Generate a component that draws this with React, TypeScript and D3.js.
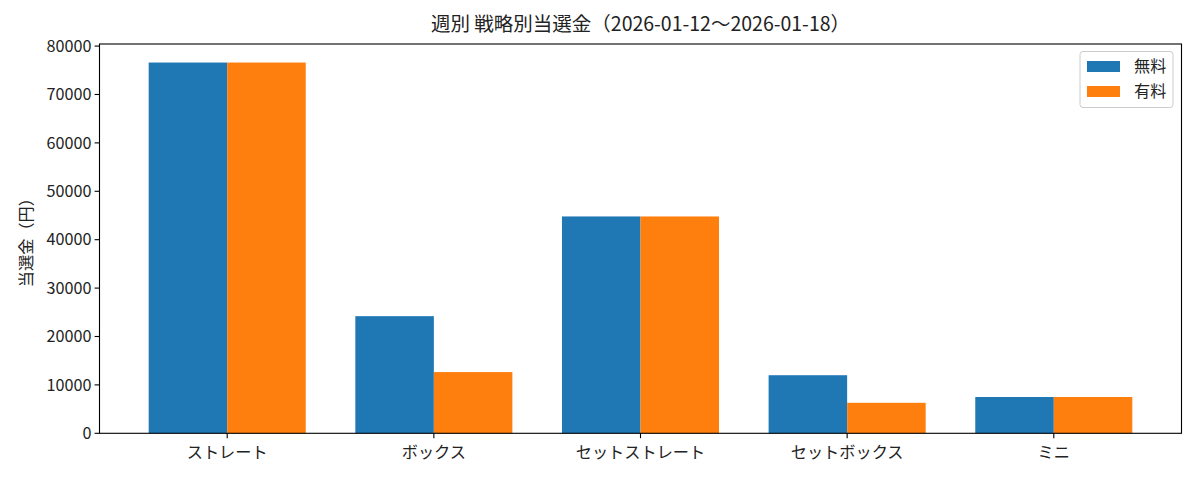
import React from "react";
import * as d3 from "d3";

const categories = ["ストレート", "ボックス", "セットストレート", "セットボックス", "ミニ"];
const freeValues = [76600, 24200, 44800, 12000, 7500];
const paidValues = [76600, 12650, 44800, 6300, 7500];
const seriesNames = ["無料", "有料"];
const yTicks = [0, 10000, 20000, 30000, 40000, 50000, 60000, 70000, 80000];
const titleText = "週別 戦略別当選金（2026-01-12〜2026-01-18）";
const yLabel = "当選金（円）";

const colors = ["#1f77b4", "#ff7f0e"];
const font = "'Noto Sans CJK JP', 'Noto Sans', sans-serif";

export default function App() {
  const W = 1200, H = 480;
  const left = 99.5, right = 1181.5, top = 44, bottom = 433.3;
  const barW = 0.38;
  const n = categories.length;
  const pad = (n - 1 + 2 * barW) * 0.05;
  const x = d3.scaleLinear().domain([-barW - pad, n - 1 + barW + pad]).range([left, right]);
  const maxV = d3.max([...freeValues, ...paidValues]) as number;
  const y = d3.scaleLinear().domain([0, maxV * 1.05]).range([bottom, top]);
  const series = [freeValues, paidValues];
  const fs = 16.2;

  return (
    <svg width={W} height={H} style={{ position: "absolute", left: 0, top: 0, background: "#fff" }} fontFamily={font}>
      <rect x={0} y={0} width={W} height={H} fill="#fff" />
      {series.map((vals, si) =>
        vals.map((v, i) => {
          const x0 = si === 0 ? x(i - barW) : x(i);
          const x1 = si === 0 ? x(i) : x(i + barW);
          return <rect key={`${si}-${i}`} x={x0} y={y(v)} width={x1 - x0} height={y(0) - y(v)} fill={colors[si]} />;
        })
      )}
      <rect x={left} y={top} width={right - left} height={bottom - top} fill="none" stroke="#000" strokeWidth={1.1} />
      {yTicks.map((t) => (
        <g key={t}>
          <line x1={left - 4.9} x2={left} y1={y(t)} y2={y(t)} stroke="#000" strokeWidth={1.1} />
          <text x={left - 8} y={y(t)} dy="0.35em" textAnchor="end" fontSize={fs} fill="#222">{t}</text>
        </g>
      ))}
      {categories.map((c, i) => (
        <g key={c}>
          <line x1={x(i)} x2={x(i)} y1={bottom} y2={bottom + 4.9} stroke="#000" strokeWidth={1.1} />
          <text x={x(i)} y={bottom + 19.5} dy="0.35em" textAnchor="middle" fontSize={fs} fill="#222">{c}</text>
        </g>
      ))}
      <text transform={`translate(${26},${(top + bottom) / 2}) rotate(-90)`} textAnchor="middle" dy="0.35em" fontSize={fs} fill="#222">{yLabel}</text>
      <text x={(left + right) / 2} y={24} dy="0.35em" textAnchor="middle" fontSize={19.5} fill="#222">{titleText}</text>
      <g>
        <rect x={1080} y={51.5} width={93} height={56} rx={3} fill="#fff" fillOpacity={0.8} stroke="#ccc" strokeWidth={1} />
        {seriesNames.map((s, i) => (
          <g key={s}>
            <rect x={1087} y={61 + i * 25} width={33} height={11} fill={colors[i]} />
            <text x={1134} y={66.5 + i * 25} dy="0.35em" fontSize={fs} fill="#222">{s}</text>
          </g>
        ))}
      </g>
    </svg>
  );
}
